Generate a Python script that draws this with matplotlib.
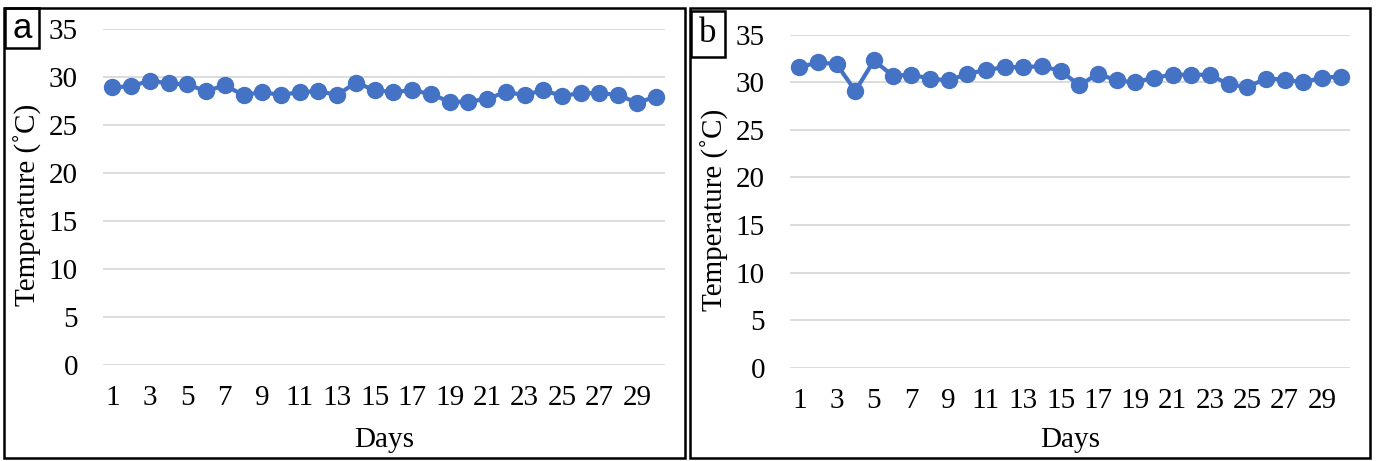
import matplotlib
matplotlib.use('Agg')
import matplotlib.pyplot as plt
from matplotlib.patches import Rectangle

days = list(range(1, 31))
temp_a = [28.9, 29.0, 29.6, 29.3, 29.2, 28.5, 29.1, 28.1, 28.4, 28.1,
          28.4, 28.5, 28.1, 29.4, 28.6, 28.4, 28.6, 28.2, 27.4, 27.4,
          27.7, 28.4, 28.1, 28.6, 28.0, 28.3, 28.3, 28.1, 27.3, 27.9]
temp_b = [31.6, 32.1, 31.9, 29.1, 32.3, 30.7, 30.8, 30.4, 30.2, 30.9,
          31.3, 31.6, 31.6, 31.7, 31.2, 29.7, 30.9, 30.2, 30.0, 30.5,
          30.8, 30.8, 30.8, 29.8, 29.5, 30.4, 30.3, 30.0, 30.5, 30.6]
xtick_days = list(range(1, 31, 2))
yticks = [0, 5, 10, 15, 20, 25, 30, 35]
panel_labels = ['a', 'b']

W, H = 1378, 461
fig = plt.figure(figsize=(W / 100, H / 100), dpi=100)
serif = 'Liberation Serif'
fs = 21

def px_box(x0, y0, x1, y1):
    # pixel box (top-left origin) -> figure fraction rect
    return [x0 / W, 1 - y1 / H, (x1 - x0) / W, (y1 - y0) / H]

# axes boxes in pixels: left, top(35), right, bottom(0)
axes_px = [(103, 28.7, 665, 365), (790, 34.8, 1350, 367.7)]
frames_px = [(4, 8, 685, 458), (690, 8, 1370, 458)]
labelbox_px = [(5, 8, 39, 48), (691, 11, 725, 57)]
label_fonts = ['Liberation Sans', serif]
ylabel_x = [28, 715]

for i, temps in enumerate([temp_a, temp_b]):
    x0, y0, x1, y1 = axes_px[i]
    ax = fig.add_axes(px_box(x0, y0, x1, y1))
    ax.plot(days, temps, color='#4472C4', lw=3.0, marker='o', ms=11.5, zorder=3)
    ax.set_xlim(0.5, 30.5)
    ax.set_ylim(0, 35)
    ax.set_yticks(yticks)
    ax.set_xticks(xtick_days)
    ax.grid(axis='y', color='#D9D9D9', lw=1.3)
    ax.set_axisbelow(True)
    for s in ax.spines.values():
        s.set_visible(False)
    ax.tick_params(length=0, labelsize=fs)
    ax.tick_params(axis='y', pad=18)
    ax.tick_params(axis='x', pad=14.5)
    for t in ax.get_xticklabels() + ax.get_yticklabels():
        t.set_fontfamily(serif)
    ax.set_xlabel('Days', fontsize=fs, fontfamily=serif, va='center')
    ax.set_ylabel('Temperature (˚C)', fontsize=fs, fontfamily=serif, va='center')
    ax.xaxis.set_label_coords(0.5, -(440 - y1) / (y1 - y0))
    ax.yaxis.set_label_coords(-(x0 - ylabel_x[i]) / (x1 - x0), 0.475)

    fx0, fy0, fx1, fy1 = frames_px[i]
    fig.patches.append(Rectangle((fx0 / W, 1 - fy1 / H), (fx1 - fx0) / W, (fy1 - fy0) / H,
                                 transform=fig.transFigure, fill=False, ec='black', lw=1.8))
    bx0, by0, bx1, by1 = labelbox_px[i]
    fig.patches.append(Rectangle((bx0 / W, 1 - by1 / H), (bx1 - bx0) / W, (by1 - by0) / H,
                                 transform=fig.transFigure, fill=False, ec='black', lw=1.8))
    fig.text((bx0 + bx1) / 2 / W, 1 - (by0 + by1) / 2 / H, panel_labels[i],
             fontsize=25, fontfamily=label_fonts[i], ha='center', va='center')

fig.savefig('out.png', dpi=100)
